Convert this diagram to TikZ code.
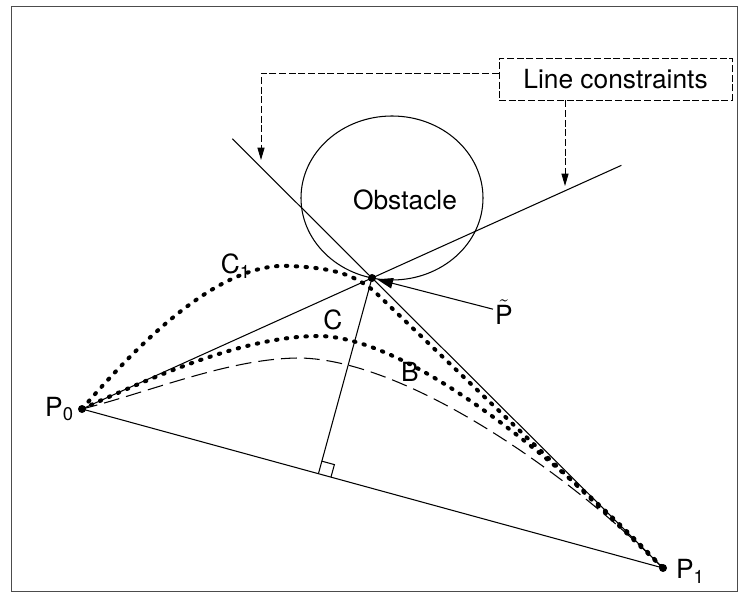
\documentclass[tikz,border=0pt]{standalone}
\usepackage{fontspec}
\setmainfont{TeX Gyre Heros}
\usetikzlibrary{arrows.meta, calc, positioning}

\begin{document}
\begin{tikzpicture}[x=0.02cm, y=-0.02cm,
    thinline/.style={line width=0.6pt},
    guide/.style={line width=0.5pt, dash pattern=on 4pt off 1.5pt},
    dotcurve/.style={line width=2.3pt, line cap=round, dash pattern=on 0.8pt off 4.8pt},
    dashcurve/.style={line width=0.6pt, dash pattern=on 9pt off 4pt},
    lbl/.style={font=\fontsize{15}{18}\selectfont, inner sep=1pt}]
  \useasboundingbox (0,0) rectangle (740,594);

  % frame
  \draw[line width=0.5pt, black!70] (11,6) rectangle (737,591);

  % points
  \coordinate (P0) at (82,409);
  \coordinate (P1) at (663,568);
  \coordinate (tp) at (372,278);
  \coordinate (foot) at ($(P0)!(tp)!(P1)$);
  \coordinate (la) at (261,160);
  \coordinate (ra) at (565,186);

  % obstacle
  \draw[thinline] (392,198) ellipse (91 and 82);
  \node[lbl] (obst) at (405,200) {Obstacle};

  % line constraints
  \draw[thinline] ($(P1)!1.48!(tp)$) -- (P1);
  \draw[thinline] (P0) -- ($(P0)!1.86!(tp)$);
  \draw[thinline] (P0) -- (P1);

  \node[lbl, draw, guide, minimum width=4.66cm, minimum height=0.84cm] (constr) at (615.5,79) {Line constraints};
  \draw[guide, -{Triangle[length=7pt, width=4pt]}] ($(constr.west)+(0,-6)$) -| (la);
  \draw[guide, -{Triangle[length=7pt, width=4pt]}] (constr.south -| ra) -- (ra);

  % perpendicular with right angle
  \draw[thinline] (tp) -- (foot);
  \coordinate (ra1) at ($(foot)!0.26cm!(P1)$);
  \coordinate (ra2) at ($(foot)!0.26cm!(tp)$);
  \draw[thinline] (ra2) -- ($(ra1)+(ra2)-(foot)$) -- (ra1);

  % curves
  \draw[dotcurve] (P0) .. controls (150,330) and (225,262) .. (290,266)
    .. controls (335,268) and (355,275) .. (375,292) -- (P1);
  \draw[dotcurve] (P0) .. controls (170,369) and (250,336) .. (320,336)
    .. controls (410,338) and (560,460) .. (P1);
  \draw[dashcurve] (P0) .. controls (150,392) and (230,358) .. (300,358)
    .. controls (405,360) and (565,470) .. (P1);

  % labels
  \node[lbl] (c1lbl) at (236,266) {C\textsubscript{1}};
  \node[lbl] (clbl) at (333,320) {C};
  \node[lbl] (blbl) at (410,372) {B};
  \node[lbl, left=0.12cm of P0] (p0lbl) {P\textsubscript{0}};
  \node[lbl, right=0.22cm of P1, yshift=-2pt] (p1lbl) {P\textsubscript{1}};
  \node[lbl, anchor=west] (ptil) at (493,312) {$\tilde{\mbox{P}}$};
  \draw[thinline, -{Triangle[length=9pt, width=6pt]}, shorten >=3pt] (ptil) -- (tp);

  % dots
  \foreach \p in {P0,P1,tp} {
      \fill (\p) circle (4);
    }
\end{tikzpicture}
\end{document}
